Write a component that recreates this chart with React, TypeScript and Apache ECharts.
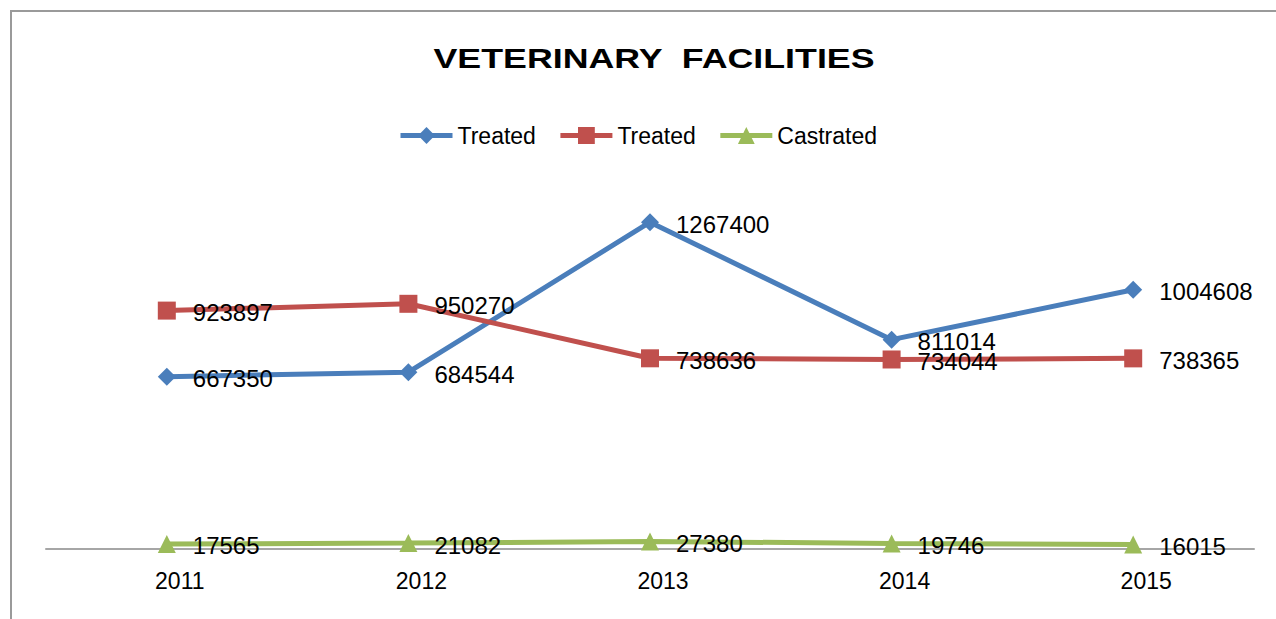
import { useEffect, useRef } from 'react';
import * as echarts from 'echarts';

const years = ['2011', '2012', '2013', '2014', '2015'];
const treatedBlue = [667350, 684544, 1267400, 811014, 1004608];
const treatedRed = [923897, 950270, 738636, 734044, 738365];
const castrated = [17565, 21082, 27380, 19746, 16015];
const seriesNames = ['Treated', 'Treated ', 'Castrated'];
const titleText = 'VETERINARY  FACILITIES';
const yMax = 1400000;

const FONT = '"Liberation Sans", Arial, sans-serif';

export default function App() {
  const ref = useRef<HTMLDivElement>(null);
  useEffect(() => {
    if (!ref.current) return;
    const chart = echarts.init(ref.current, null, { renderer: 'svg' });
    const label = {
      show: true,
      position: 'right',
      distance: 17,
      offset: [0, 2],
      fontSize: 24,
      fontFamily: FONT,
      color: '#000',
    };
    const mk = (name: string, data: number[], color: string, symbol: string, size: number) => ({
      name,
      type: 'line',
      data,
      symbol,
      symbolSize: size,
      showAllSymbol: true,
      itemStyle: { color },
      lineStyle: { color, width: 5 },
      label,
    });
    chart.setOption({
      animation: false,
      backgroundColor: '#fff',
      graphic: [
        {
          type: 'rect',
          silent: true,
          z: -10,
          shape: { x: 11, y: 11, width: 1300, height: 700 },
          style: { fill: 'none', stroke: '#9a9a9a', lineWidth: 2 },
        },
        {
          type: 'text',
          x: 654,
          y: 58,
          scaleX: 1.277,
          style: {
            text: titleText,
            fontSize: 28,
            fontWeight: 'bold',
            fontFamily: FONT,
            fill: '#000',
            align: 'center',
            verticalAlign: 'middle',
          },
        },
      ],
      legend: {
        left: 398,
        top: 124,
        padding: 0,
        itemWidth: 52,
        itemHeight: 21,
        itemGap: 22,
        lineStyle: { width: 5 },
        formatter: (n: string) => n.trim(),
        textStyle: { fontSize: 23, fontFamily: FONT, color: '#000' },
        data: seriesNames,
      },
      grid: { left: 46, right: 22, top: 188, bottom: 70.5, containLabel: false },
      xAxis: {
        type: 'category',
        data: years,
        boundaryGap: true,
        axisLine: { lineStyle: { color: '#a6a6a6', width: 2 } },
        axisTick: { show: false },
        axisLabel: {
          fontSize: 23,
          fontFamily: FONT,
          color: '#000',
          margin: 21,
          padding: [0, 0, 0, 26],
        },
      },
      yAxis: {
        type: 'value',
        min: 0,
        max: yMax,
        show: false,
        splitLine: { show: false },
      },
      series: [
        mk(seriesNames[0], treatedBlue, '#4a7ebb', 'diamond', 18),
        mk(seriesNames[1], treatedRed, '#c0504d', 'rect', 18),
        mk(seriesNames[2], castrated, '#9bbb59', 'triangle', 18),
      ],
    });
    return () => chart.dispose();
  }, []);
  return <div ref={ref} style={{ position: 'fixed', left: 0, top: 0, width: 1276, height: 619 }} />;
}
